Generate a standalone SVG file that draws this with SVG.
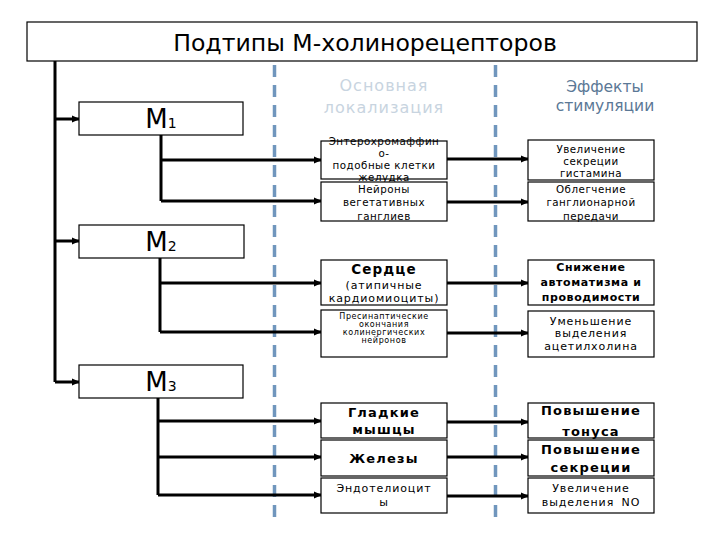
<svg xmlns="http://www.w3.org/2000/svg" width="720" height="540" viewBox="0 0 720 540">
<defs>
<marker id="ah" markerWidth="8" markerHeight="8" refX="7" refY="4" orient="auto" markerUnits="userSpaceOnUse">
<path d="M0,0.5 L8,4 L0,7.5 Z" fill="#000"/>
</marker>
<style>
.box{fill:#fff;stroke:#000;stroke-width:1.2}
.t{font-family:"DejaVu Sans",sans-serif;fill:#000;text-anchor:middle}
.s{font-size:10.3px;letter-spacing:0.5px}
.w{font-size:11px;letter-spacing:0.9px}
.xs{font-size:8px;letter-spacing:0.6px}
.b{font-weight:bold}
.bs{font-size:11px;font-weight:bold;letter-spacing:0.6px}
.bl{font-size:13px;font-weight:bold;letter-spacing:1.2px}
.c{fill:none;stroke:#000;stroke-width:3}
.a{fill:none;stroke:#000;stroke-width:3;marker-end:url(#ah)}
.dash{stroke:#7096bd;stroke-width:3.5;stroke-dasharray:12 8}
</style>
</defs>
<rect width="720" height="540" fill="#fff"/>
<g id="dividers">
<line class="dash" x1="274.5" y1="65" x2="274.5" y2="520"/>
<line class="dash" x1="495.5" y1="65" x2="495.5" y2="520"/>
</g>
<g id="title">
<rect class="box" x="27" y="22" width="670" height="39"/>
<text class="t" x="365" y="51" font-size="23.6">Подтипы М-холинорецепторов</text>
</g>
<g id="headers">
<text class="t" x="384" y="91" font-size="16" letter-spacing="1" style="fill:#c8d4e0">Основная</text>
<text class="t" x="384" y="113" font-size="16" letter-spacing="1" style="fill:#c8d4e0">локализация</text>
<text class="t" x="605" y="92" font-size="15.5" style="fill:#5b7896">Эффекты</text>
<text class="t" x="605" y="111" font-size="15.5" style="fill:#5b7896">стимуляции</text>
</g>
<g id="connectors">
<path class="c" d="M55,61 V382"/>
<path class="a" d="M55,119 H79"/>
<path class="a" d="M55,241 H79"/>
<path class="a" d="M55,382 H79"/>
<path class="c" d="M161,135 V201"/>
<path class="a" d="M161,160 H321"/>
<path class="a" d="M161,201 H321"/>
<path class="c" d="M160,258 V332"/>
<path class="a" d="M160,283 H321"/>
<path class="a" d="M160,332 H321"/>
<path class="c" d="M158,398 V495"/>
<path class="a" d="M158,421 H321"/>
<path class="a" d="M158,457 H321"/>
<path class="a" d="M158,495 H321"/>
<path class="a" d="M447,159 H528"/>
<path class="a" d="M447,202 H528"/>
<path class="a" d="M447,283 H528"/>
<path class="a" d="M447,333 H528"/>
<path class="a" d="M447,422 H528"/>
<path class="a" d="M447,457 H528"/>
<path class="a" d="M447,496 H528"/>
</g>
<g id="m1">
<rect class="box" x="79" y="102" width="164" height="33"/>
<text class="t" x="161" y="128" font-size="26">M<tspan font-size="14">1</tspan></text>
</g>
<g id="m2">
<rect class="box" x="79" y="225" width="165" height="33"/>
<text class="t" x="161" y="251" font-size="26">M<tspan font-size="14">2</tspan></text>
</g>
<g id="m3">
<rect class="box" x="79" y="365" width="164" height="33"/>
<text class="t" x="161" y="391" font-size="26">M<tspan font-size="14">3</tspan></text>
</g>
<g id="loc1">
<rect class="box" x="321" y="141" width="126" height="38"/>
<text class="t s" x="384" y="145">Энтерохромаффин</text>
<text class="t s" x="384" y="157">о-</text>
<text class="t s" x="384" y="169">подобные клетки</text>
<text class="t s" x="384" y="181">желудка</text>
</g>
<g id="loc2">
<rect class="box" x="321" y="182" width="126" height="39"/>
<text class="t s" x="384" y="193">Нейроны</text>
<text class="t s" x="384" y="206">вегетативных</text>
<text class="t s" x="384" y="220">ганглиев</text>
</g>
<g id="eff1">
<rect class="box" x="528" y="140" width="126" height="40"/>
<text class="t s" x="591" y="153">Увеличение</text>
<text class="t s" x="591" y="165">секреции</text>
<text class="t s" x="591" y="177">гистамина</text>
</g>
<g id="eff2">
<rect class="box" x="528" y="182" width="126" height="39"/>
<text class="t s" x="591" y="193">Облегчение</text>
<text class="t s" x="591" y="206">ганглионарной</text>
<text class="t s" x="591" y="220">передачи</text>
</g>
<g id="loc3">
<rect class="box" x="321" y="260" width="126" height="45"/>
<text class="t b" x="384" y="274" font-size="13.5" letter-spacing="1.1">Сердце</text>
<text class="t w" x="384" y="289">(атипичные</text>
<text class="t w" x="384" y="302">кардиомиоциты)</text>
</g>
<g id="loc4">
<rect class="box" x="321" y="310" width="126" height="47"/>
<text class="t xs" x="384" y="319">Пресинаптические</text>
<text class="t xs" x="384" y="327">окончания</text>
<text class="t xs" x="384" y="335">колинергических</text>
<text class="t xs" x="384" y="343">нейронов</text>
</g>
<g id="eff3">
<rect class="box" x="528" y="260" width="126" height="45"/>
<text class="t bs" x="591" y="271">Снижение</text>
<text class="t bs" x="591" y="286">автоматизма и</text>
<text class="t bs" x="591" y="301">проводимости</text>
</g>
<g id="eff4">
<rect class="box" x="528" y="311" width="126" height="46"/>
<text class="t w" x="591" y="325">Уменьшение</text>
<text class="t w" x="591" y="337">выделения</text>
<text class="t w" x="591" y="350">ацетилхолина</text>
</g>
<g id="loc5">
<rect class="box" x="321" y="403" width="126" height="35"/>
<text class="t bl" x="384" y="417">Гладкие</text>
<text class="t bl" x="384" y="434">мышцы</text>
</g>
<g id="loc6">
<rect class="box" x="321" y="440" width="126" height="36"/>
<text class="t bl" x="384" y="463">Железы</text>
</g>
<g id="loc7">
<rect class="box" x="321" y="478" width="126" height="35"/>
<text class="t w" x="384" y="492">Эндотелиоцит</text>
<text class="t w" x="384" y="506">ы</text>
</g>
<g id="eff5">
<rect class="box" x="528" y="403" width="126" height="35"/>
<text class="t bl" x="591" y="415">Повышение</text>
<text class="t bl" x="591" y="436">тонуса</text>
</g>
<g id="eff6">
<rect class="box" x="528" y="440" width="126" height="36"/>
<text class="t bl" x="591" y="454">Повышение</text>
<text class="t bl" x="591" y="472">секреции</text>
</g>
<g id="eff7">
<rect class="box" x="528" y="478" width="126" height="35"/>
<text class="t w" x="591" y="492">Увеличение</text>
<text class="t w" x="591" y="506" word-spacing="3">выделения NO</text>
</g>
</svg>
